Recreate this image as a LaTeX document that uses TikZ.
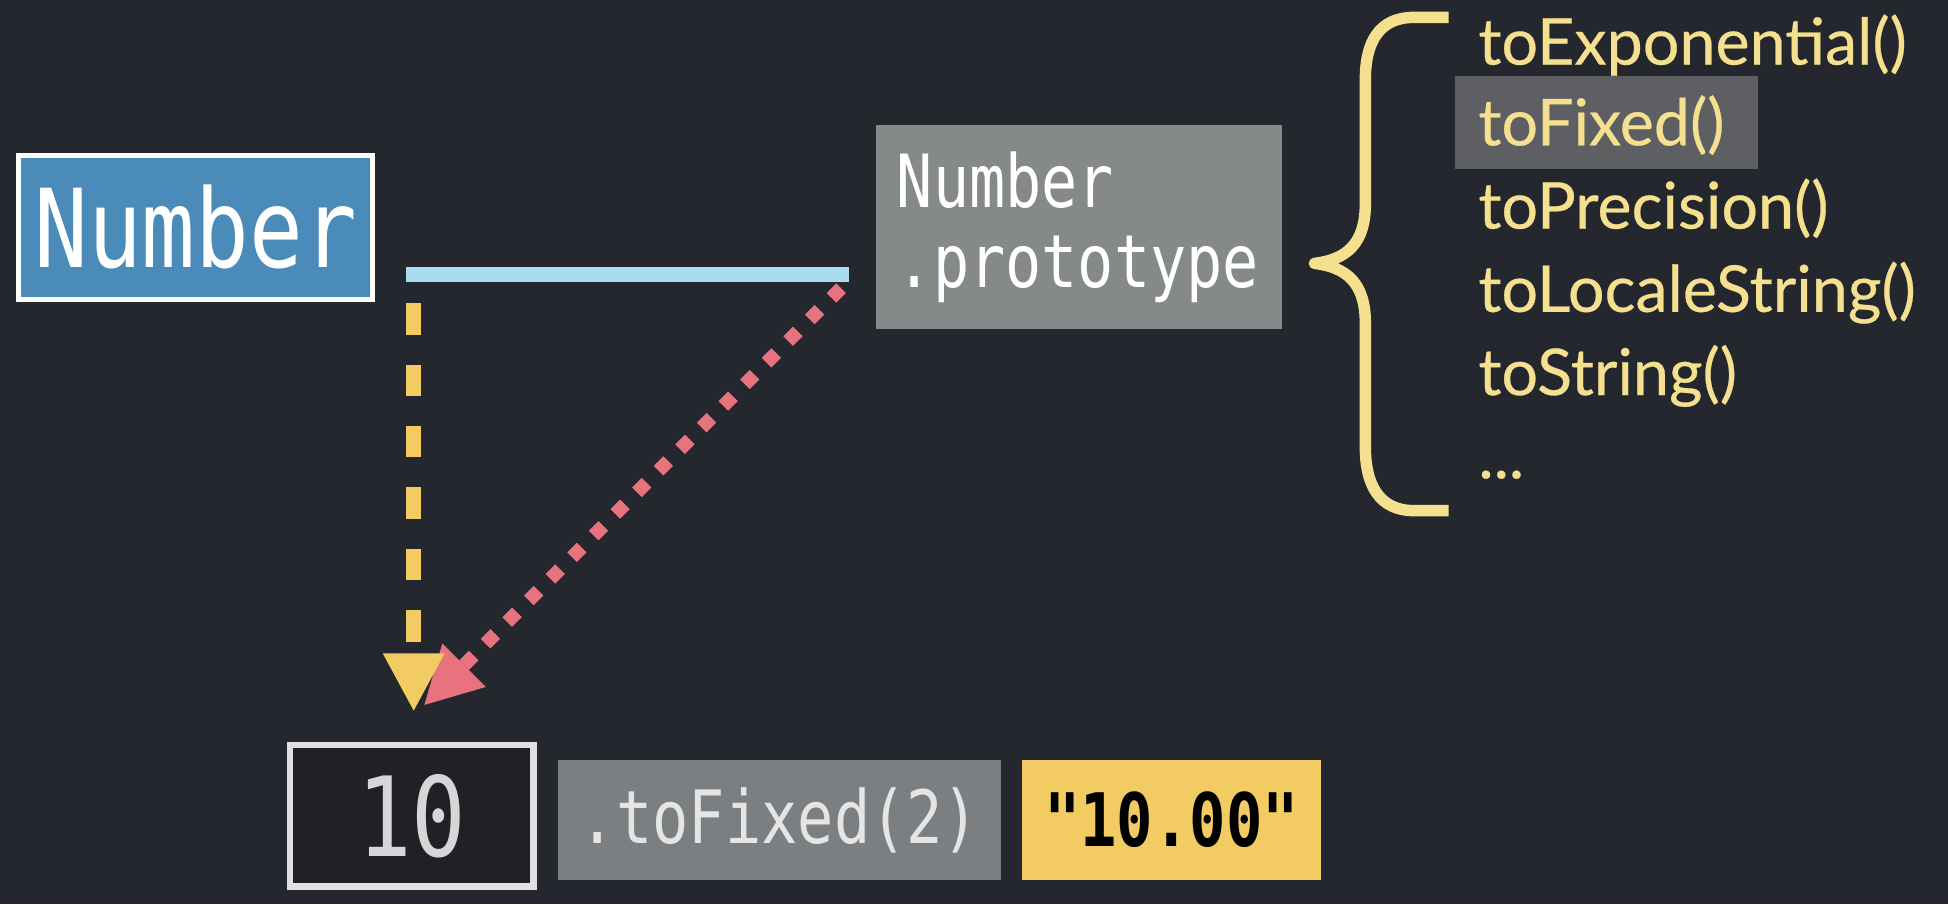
\documentclass[tikz,border=0pt]{standalone}
\usepackage{fontspec}
\setmainfont{Lato}
\newfontfamily\listfont[FakeBold=0.4]{Lato}
\newfontfamily\codefont[FakeStretch=0.82]{DejaVu Sans Mono}
\usetikzlibrary{arrows.meta}
\definecolor{bgc}{HTML}{25272E}
\definecolor{numblue}{HTML}{4A8BB9}
\definecolor{protogray}{HTML}{86898A}
\definecolor{linkblue}{HTML}{A8DDF0}
\definecolor{ayellow}{HTML}{F2CB63}
\definecolor{ared}{HTML}{E8737F}
\definecolor{listyellow}{HTML}{F4E08F}
\definecolor{hlgray}{HTML}{5E5F63}
\definecolor{callgray}{HTML}{7C7F81}
\definecolor{tenfill}{HTML}{1F2127}
\begin{document}
\begin{tikzpicture}[x=0.5pt,y=-0.5pt,
  plainbox/.style={inner sep=0pt, outer sep=0pt},
  numbox/.style={plainbox, fill=numblue, draw=white, line width=2pt,
    minimum width=142.5pt, minimum height=58pt, text=white,
    font=\codefont\fontsize{43.8pt}{44pt}\selectfont},
  protobox/.style={plainbox, fill=protogray, text=white, align=left,
    text width=146.5pt, inner xsep=8.5pt, minimum height=82pt,
    font=\codefont\fontsize{29.5pt}{32.5pt}\selectfont},
  tenbox/.style={plainbox, fill=tenfill, draw=white!88!black, line width=2.5pt,
    minimum width=98pt, minimum height=57pt, text=white!84!black,
    font=\codefont\fontsize{44.5pt}{45pt}\selectfont},
  callbox/.style={plainbox, fill=callgray, minimum width=178.5pt, minimum height=48pt,
    text=white!90!black, font=\codefont\fontsize{29.6pt}{30pt}\selectfont},
  resbox/.style={plainbox, fill=ayellow, minimum width=120pt, minimum height=48pt,
    text=black, font=\codefont\bfseries\fontsize{29.7pt}{30pt}\selectfont},
  listtxt/.style={plainbox, anchor=base west, text=listyellow,
    font=\listfont\fontsize{26pt}{27pt}\selectfont},
  hlbox/.style={plainbox, fill=hlgray, minimum width=122pt, minimum height=37.5pt},
  linkline/.style={draw=linkblue, line width=6pt},
  inherit/.style={draw=ayellow, line width=6pt, dash pattern=on 12.7pt off 12pt,
    -{Triangle[width=23pt,length=23.5pt]}},
  lookup/.style={draw=ared, line width=5.5pt, dash pattern=on 5.5pt off 6.8pt,
    -{Triangle[width=23pt,length=23pt]}},
  bracestyle/.style={draw=listyellow, line width=4.6pt, line join=round}
]
\fill[bgc] (0,0) rectangle (1568,728);
\useasboundingbox (0,0) rectangle (1568,728);

% main nodes
\node[numbox] (num) at (157.5,183) {Number};
\node[protobox] (proto) at (868.5,183) {Number\\.prototype};

% link line
\coordinate (hL) at (327,221);
\coordinate (hR) at (683,221);
\draw[linkline] (hL) -- (hR);

% bottom row
\node[tenbox, text depth=0pt, yshift=2pt] (ten) at (331.5,660.5) {10};
\node[callbox] (call) at (627.5,660) {.toFixed(2)};
\node[resbox] (res) at (943,660) {"10.00"};

% arrows
\coordinate (rstart) at (677,232);
\coordinate (rtip) at (341,568);
\coordinate (ystart) at (333,244);
\coordinate (ytip) at (333,573);
\draw[lookup] (rstart) -- (rtip);
\draw[inherit] (ystart) -- (ytip);

% brace
\draw[bracestyle] (1166,14) -- (1138,14)
  .. controls (1110,14) and (1099,34) .. (1099,64) -- (1099,164)
  .. controls (1099,196) and (1084,209) .. (1058,212)
  .. controls (1084,215) and (1099,228) .. (1099,260) -- (1099,360)
  .. controls (1099,390) and (1110,411) .. (1138,411) -- (1166,411);

% method list
\node[hlbox] (hl) at (1293,98.5) {};
\node[listtxt] (m1) at (1190,52) {toExponential()};
\node[listtxt] (m2) at (1190,117) {toFixed()};
\node[listtxt] (m3) at (1190,184) {toPrecision()};
\node[listtxt] (m4) at (1190,251) {toLocaleString()};
\node[listtxt] (m5) at (1190,318) {toString()};
\node[listtxt] (m6) at (1190,385) {...};
\end{tikzpicture}
\end{document}
